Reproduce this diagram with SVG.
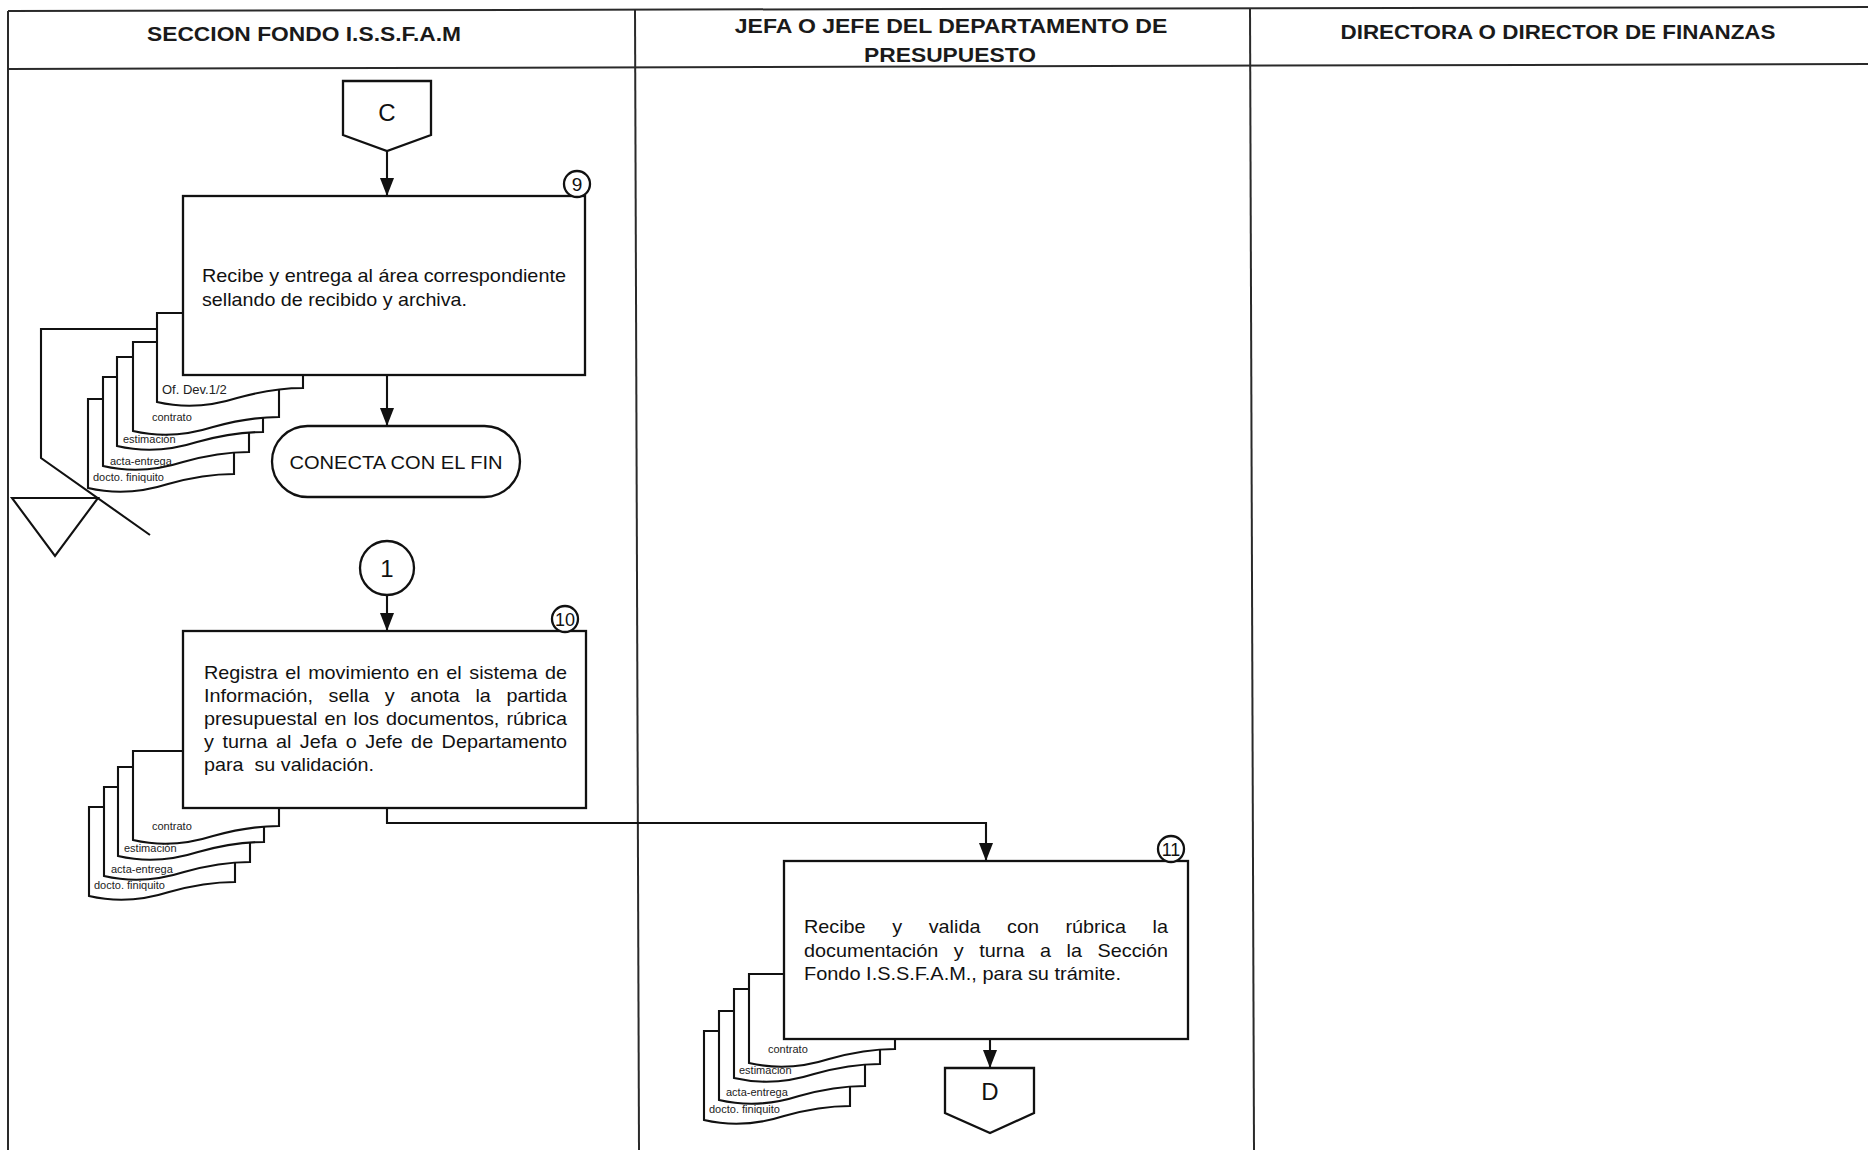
<svg xmlns="http://www.w3.org/2000/svg" width="1868" height="1150" viewBox="0 0 1868 1150">
<style>
.lane{stroke:#2a2a2a;stroke-width:2;fill:none}
.hdr{font-family:"Liberation Sans",Arial,sans-serif;font-weight:bold;font-size:20px;fill:#1a1a1a;text-anchor:middle}
.box{fill:#fff;stroke:#111;stroke-width:2.3}
.txt{font-family:"Liberation Sans",Arial,sans-serif;font-size:18.5px;fill:#111}
.doc{fill:#fff;stroke:#111;stroke-width:2.1}
.lbl{font-family:"Liberation Sans",Arial,sans-serif;font-size:11px;fill:#222}
.conn{stroke:#111;stroke-width:2.1;fill:none}
.num{font-family:"Liberation Sans",Arial,sans-serif;font-size:19px;fill:#111;text-anchor:middle}
.big{font-family:"Liberation Sans",Arial,sans-serif;font-size:24px;fill:#111;text-anchor:middle}
</style>
<defs>
<path id="docshape" d="M0,0 H146 V75 C125,75 105,78 80,85 C55,93 30,96 0,89 Z"/>
<marker id="arr" markerUnits="userSpaceOnUse" markerWidth="18" markerHeight="14" viewBox="0 0 18 14" refX="18" refY="7" orient="auto">
<path d="M0,0 L18,7 L0,14 Z" fill="#111"/>
</marker>
</defs>
<rect width="1868" height="1150" fill="#fff"/>

<g id="lanes">
<line class="lane" x1="8" y1="11" x2="1868" y2="7"/>
<line class="lane" x1="8" y1="69" x2="1868" y2="64"/>
<line class="lane" x1="8" y1="11" x2="8" y2="1150"/>
<line class="lane" x1="635" y1="10" x2="639" y2="1150"/>
<line class="lane" x1="1250" y1="9" x2="1254" y2="1150"/>
<text class="hdr" transform="translate(304,41) scale(1.14,1)">SECCION FONDO I.S.S.F.A.M</text>
<text class="hdr" transform="translate(951,33) scale(1.152,1)">JEFA O JEFE DEL DEPARTAMENTO DE</text>
<text class="hdr" transform="translate(950,62) scale(1.14,1)">PRESUPUESTO</text>
<text class="hdr" transform="translate(1558,39) scale(1.12,1)">DIRECTORA O DIRECTOR DE FINANZAS</text>
</g>

<g id="node-c">
<path class="box" d="M343,81 H431 V135 L387,151 L343,135 Z"/>
<text class="big" x="387" y="121">C</text>
</g>

<g id="archive-9">
<polyline class="conn" points="157,329 41,329 41,458 150,535"/>
<polygon class="conn" points="12,498 98,498 55,556"/>
</g>

<g id="docs-9">
<use href="#docshape" class="doc" x="88" y="399"/>
<use href="#docshape" class="doc" x="103" y="377"/>
<use href="#docshape" class="doc" x="117" y="357"/>
<use href="#docshape" class="doc" x="133" y="342"/>
<use href="#docshape" class="doc" x="157" y="313"/>
<text class="lbl" x="93" y="481">docto. finiquito</text>
<text class="lbl" x="110" y="465">acta-entrega</text>
<text class="lbl" x="123" y="443">estimación</text>
<text class="lbl" x="152" y="421">contrato</text>
<text class="lbl" x="162" y="394" style="font-size:13px">Of. Dev.1/2</text>
</g>

<g id="node-9">
<rect class="box" x="183" y="196" width="402" height="179"/>
<text class="txt" x="202" y="282" textLength="364" lengthAdjust="spacingAndGlyphs">Recibe y entrega al área correspondiente</text>
<text class="txt" x="202" y="306" textLength="265" lengthAdjust="spacingAndGlyphs">sellando de recibido y archiva.</text>
<circle class="box" cx="577" cy="184" r="13"/>
<text class="num" x="577" y="191">9</text>
</g>

<g id="node-fin">
<rect class="box" x="272" y="426" width="248" height="71" rx="35.5" ry="35.5"/>
<text class="txt" x="396" y="469" text-anchor="middle" textLength="213" lengthAdjust="spacingAndGlyphs" style="font-size:19px">CONECTA CON EL FIN</text>
</g>

<g id="node-1">
<circle class="box" cx="387" cy="568" r="27"/>
<text class="big" x="387" y="577">1</text>
</g>

<g id="docs-10">
<use href="#docshape" class="doc" x="89" y="807"/>
<use href="#docshape" class="doc" x="104" y="787"/>
<use href="#docshape" class="doc" x="118" y="767"/>
<use href="#docshape" class="doc" x="133" y="751"/>
<text class="lbl" x="94" y="889">docto. finiquito</text>
<text class="lbl" x="111" y="873">acta-entrega</text>
<text class="lbl" x="124" y="852">estimación</text>
<text class="lbl" x="152" y="830">contrato</text>
</g>

<g id="node-10">
<rect class="box" x="183" y="631" width="403" height="177"/>
<text class="txt" x="204" y="679" textLength="363" lengthAdjust="spacingAndGlyphs" style="word-spacing:1.9px">Registra el movimiento en el sistema de</text>
<text class="txt" x="204" y="702" textLength="363" lengthAdjust="spacingAndGlyphs" style="word-spacing:9.4px">Información, sella y anota la partida</text>
<text class="txt" x="204" y="725" textLength="363" lengthAdjust="spacingAndGlyphs" style="word-spacing:1.5px">presupuestal en los documentos, rúbrica</text>
<text class="txt" x="204" y="748" textLength="363" lengthAdjust="spacingAndGlyphs" style="word-spacing:2.8px">y turna al Jefa o Jefe de Departamento</text>
<text class="txt" x="204" y="771" textLength="170" lengthAdjust="spacingAndGlyphs" xml:space="preserve">para  su validación.</text>
<circle class="box" cx="565" cy="619" r="13"/>
<text class="num" x="565" y="626" style="font-size:18px">10</text>
</g>

<g id="docs-11">
<use href="#docshape" class="doc" x="704" y="1031"/>
<use href="#docshape" class="doc" x="719" y="1011"/>
<use href="#docshape" class="doc" x="734" y="989"/>
<use href="#docshape" class="doc" x="749" y="974"/>
<text class="lbl" x="709" y="1113">docto. finiquito</text>
<text class="lbl" x="726" y="1096">acta-entrega</text>
<text class="lbl" x="739" y="1074">estimación</text>
<text class="lbl" x="768" y="1053">contrato</text>
</g>

<g id="node-11">
<rect class="box" x="784" y="861" width="404" height="178"/>
<text class="txt" x="804" y="933" textLength="364" lengthAdjust="spacingAndGlyphs" style="word-spacing:19.7px">Recibe y valida con rúbrica la</text>
<text class="txt" x="804" y="957" textLength="364" lengthAdjust="spacingAndGlyphs" style="word-spacing:9.4px">documentación y turna a la Sección</text>
<text class="txt" x="804" y="980" textLength="317" lengthAdjust="spacingAndGlyphs">Fondo I.S.S.F.A.M., para su trámite.</text>
<circle class="box" cx="1171" cy="849" r="13"/>
<text class="num" x="1171" y="856" style="font-size:18px">11</text>
</g>

<g id="node-d">
<path class="box" d="M945,1068 H1034 V1113 L990,1133 L945,1113 Z"/>
<text class="big" x="990" y="1100">D</text>
</g>

<g id="connectors">
<line class="conn" x1="387" y1="151" x2="387" y2="196" marker-end="url(#arr)"/>
<line class="conn" x1="387" y1="375" x2="387" y2="426" marker-end="url(#arr)"/>
<line class="conn" x1="387" y1="595" x2="387" y2="631" marker-end="url(#arr)"/>
<polyline class="conn" points="387,808 387,823 986,823 986,861" marker-end="url(#arr)"/>
<line class="conn" x1="990" y1="1039" x2="990" y2="1068" marker-end="url(#arr)"/>
</g>
</svg>
